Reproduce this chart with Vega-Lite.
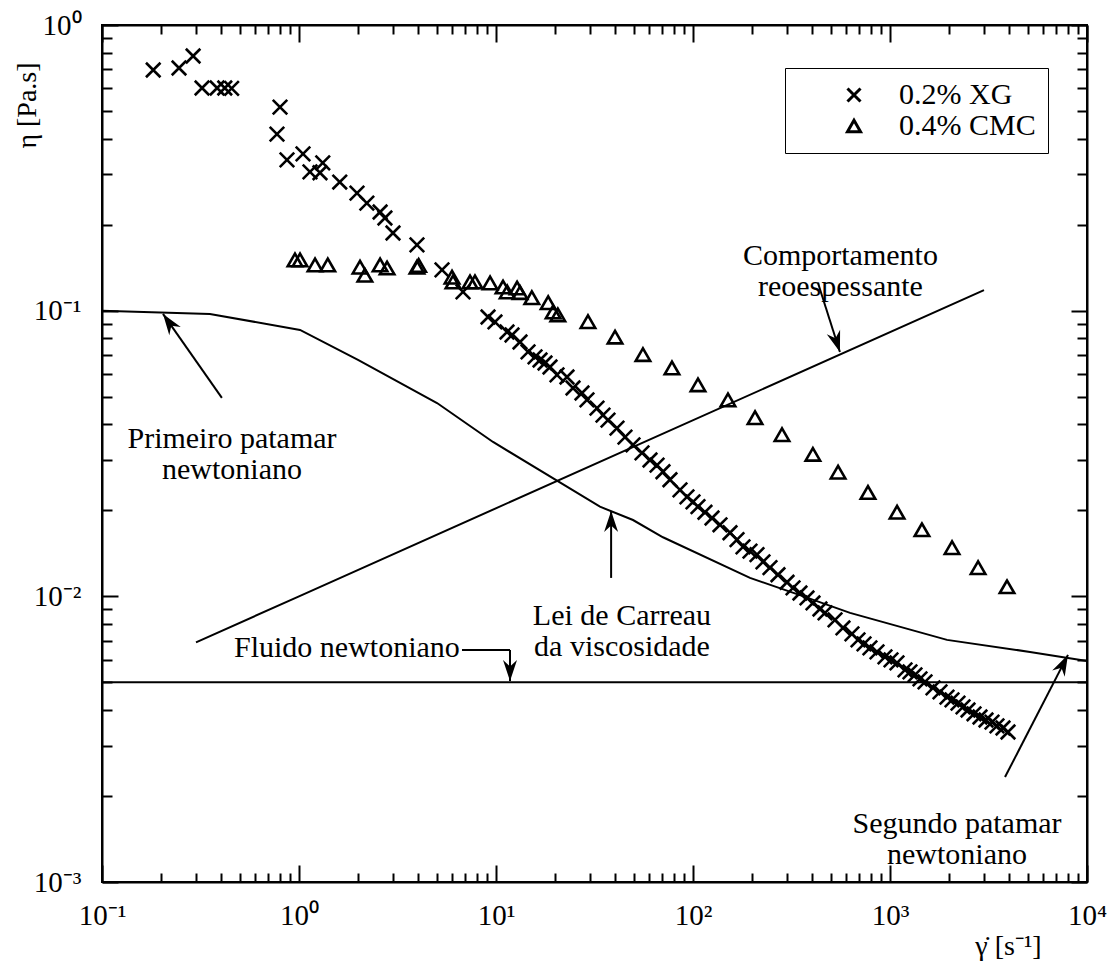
{
  "$schema": "https://vega.github.io/schema/vega-lite/v6.json",
  "width": 985,
  "height": 857,
  "autosize": "none",
  "padding": {"left": 102, "top": 25, "right": 25, "bottom": 81},
  "config": {
    "view": {"stroke": "black", "strokeWidth": 2},
    "font": "Liberation Serif",
    "axis": {
      "domainColor": "black", "domainWidth": 2,
      "tickColor": "black", "tickWidth": 2,
      "labelColor": "black", "labelFont": "Liberation Serif", "labelFontSize": 29,
      "titleColor": "black", "titleFont": "Liberation Serif", "titleFontWeight": "normal", "titleFontSize": 28,
      "grid": false, "labelFlush": false, "labelOverlap": false
    }
  },
  "datasets": {
    "measurements": [
      {"series": "0.2% XG", "rate": 0.182, "eta": 0.696},
      {"series": "0.2% XG", "rate": 0.246, "eta": 0.707},
      {"series": "0.2% XG", "rate": 0.29, "eta": 0.779},
      {"series": "0.2% XG", "rate": 0.322, "eta": 0.602},
      {"series": "0.2% XG", "rate": 0.384, "eta": 0.602},
      {"series": "0.2% XG", "rate": 0.42, "eta": 0.602},
      {"series": "0.2% XG", "rate": 0.455, "eta": 0.6},
      {"series": "0.2% XG", "rate": 0.773, "eta": 0.415},
      {"series": "0.2% XG", "rate": 0.801, "eta": 0.516},
      {"series": "0.2% XG", "rate": 0.869, "eta": 0.337},
      {"series": "0.2% XG", "rate": 1.048, "eta": 0.354},
      {"series": "0.2% XG", "rate": 1.137, "eta": 0.306},
      {"series": "0.2% XG", "rate": 1.278, "eta": 0.304},
      {"series": "0.2% XG", "rate": 1.32, "eta": 0.329},
      {"series": "0.2% XG", "rate": 1.61, "eta": 0.282},
      {"series": "0.2% XG", "rate": 1.97, "eta": 0.258},
      {"series": "0.2% XG", "rate": 2.21, "eta": 0.238},
      {"series": "0.2% XG", "rate": 2.58, "eta": 0.2215},
      {"series": "0.2% XG", "rate": 2.73, "eta": 0.211},
      {"series": "0.2% XG", "rate": 3.0, "eta": 0.187},
      {"series": "0.2% XG", "rate": 3.97, "eta": 0.17},
      {"series": "0.2% XG", "rate": 5.32, "eta": 0.139},
      {"series": "0.2% XG", "rate": 6.8, "eta": 0.1163},
      {"series": "0.2% XG", "rate": 9.11, "eta": 0.095},
      {"series": "0.2% XG", "rate": 9.88, "eta": 0.0913},
      {"series": "0.2% XG", "rate": 11.37, "eta": 0.0842},
      {"series": "0.2% XG", "rate": 12.06, "eta": 0.0822},
      {"series": "0.2% XG", "rate": 13.24, "eta": 0.0777},
      {"series": "0.2% XG", "rate": 14.54, "eta": 0.0717},
      {"series": "0.2% XG", "rate": 15.78, "eta": 0.0689},
      {"series": "0.2% XG", "rate": 16.73, "eta": 0.0672},
      {"series": "0.2% XG", "rate": 17.73, "eta": 0.0656},
      {"series": "0.2% XG", "rate": 18.8, "eta": 0.0635},
      {"series": "0.2% XG", "rate": 20.4, "eta": 0.0596},
      {"series": "0.2% XG", "rate": 22.93, "eta": 0.0586},
      {"series": "0.2% XG", "rate": 24.6, "eta": 0.0536},
      {"series": "0.2% XG", "rate": 27.32, "eta": 0.0515},
      {"series": "0.2% XG", "rate": 28.96, "eta": 0.0487},
      {"series": "0.2% XG", "rate": 32.56, "eta": 0.0456},
      {"series": "0.2% XG", "rate": 34.93, "eta": 0.0431},
      {"series": "0.2% XG", "rate": 37.03, "eta": 0.0414},
      {"series": "0.2% XG", "rate": 41.14, "eta": 0.0388},
      {"series": "0.2% XG", "rate": 45.16, "eta": 0.0361},
      {"series": "0.2% XG", "rate": 49.6, "eta": 0.0339},
      {"series": "0.2% XG", "rate": 55.1, "eta": 0.0318},
      {"series": "0.2% XG", "rate": 60.5, "eta": 0.03},
      {"series": "0.2% XG", "rate": 65.7, "eta": 0.0288},
      {"series": "0.2% XG", "rate": 70.4, "eta": 0.0273},
      {"series": "0.2% XG", "rate": 76.4, "eta": 0.0256},
      {"series": "0.2% XG", "rate": 85.9, "eta": 0.0236},
      {"series": "0.2% XG", "rate": 93.2, "eta": 0.0223},
      {"series": "0.2% XG", "rate": 100, "eta": 0.0214},
      {"series": "0.2% XG", "rate": 106, "eta": 0.0206},
      {"series": "0.2% XG", "rate": 115, "eta": 0.0197},
      {"series": "0.2% XG", "rate": 124.9, "eta": 0.0188},
      {"series": "0.2% XG", "rate": 137.1, "eta": 0.0178},
      {"series": "0.2% XG", "rate": 154.1, "eta": 0.0167},
      {"series": "0.2% XG", "rate": 167.3, "eta": 0.0158},
      {"series": "0.2% XG", "rate": 179.4, "eta": 0.0149},
      {"series": "0.2% XG", "rate": 194.7, "eta": 0.0144},
      {"series": "0.2% XG", "rate": 211.3, "eta": 0.014},
      {"series": "0.2% XG", "rate": 226.6, "eta": 0.0132},
      {"series": "0.2% XG", "rate": 246, "eta": 0.0126},
      {"series": "0.2% XG", "rate": 270, "eta": 0.0119},
      {"series": "0.2% XG", "rate": 300, "eta": 0.0112},
      {"series": "0.2% XG", "rate": 322, "eta": 0.0107},
      {"series": "0.2% XG", "rate": 349, "eta": 0.01027},
      {"series": "0.2% XG", "rate": 379, "eta": 0.00987},
      {"series": "0.2% XG", "rate": 406.5, "eta": 0.00948},
      {"series": "0.2% XG", "rate": 441, "eta": 0.00903},
      {"series": "0.2% XG", "rate": 468, "eta": 0.00875},
      {"series": "0.2% XG", "rate": 526, "eta": 0.00827},
      {"series": "0.2% XG", "rate": 577, "eta": 0.00775},
      {"series": "0.2% XG", "rate": 641, "eta": 0.00739},
      {"series": "0.2% XG", "rate": 688, "eta": 0.00704},
      {"series": "0.2% XG", "rate": 738, "eta": 0.00682},
      {"series": "0.2% XG", "rate": 791, "eta": 0.0066},
      {"series": "0.2% XG", "rate": 859, "eta": 0.00639},
      {"series": "0.2% XG", "rate": 943, "eta": 0.00614},
      {"series": "0.2% XG", "rate": 1012, "eta": 0.00599},
      {"series": "0.2% XG", "rate": 1085, "eta": 0.00585},
      {"series": "0.2% XG", "rate": 1192, "eta": 0.00553},
      {"series": "0.2% XG", "rate": 1263, "eta": 0.00544},
      {"series": "0.2% XG", "rate": 1339, "eta": 0.00531},
      {"series": "0.2% XG", "rate": 1420, "eta": 0.00514},
      {"series": "0.2% XG", "rate": 1506, "eta": 0.00502},
      {"series": "0.2% XG", "rate": 1653, "eta": 0.00478},
      {"series": "0.2% XG", "rate": 1794, "eta": 0.00463},
      {"series": "0.2% XG", "rate": 1947, "eta": 0.00444},
      {"series": "0.2% XG", "rate": 2064, "eta": 0.00434},
      {"series": "0.2% XG", "rate": 2214, "eta": 0.00423},
      {"series": "0.2% XG", "rate": 2348, "eta": 0.0041},
      {"series": "0.2% XG", "rate": 2489, "eta": 0.004},
      {"series": "0.2% XG", "rate": 2670, "eta": 0.00388},
      {"series": "0.2% XG", "rate": 2863, "eta": 0.00378},
      {"series": "0.2% XG", "rate": 3071, "eta": 0.00369},
      {"series": "0.2% XG", "rate": 3295, "eta": 0.00363},
      {"series": "0.2% XG", "rate": 3492, "eta": 0.00352},
      {"series": "0.2% XG", "rate": 3747, "eta": 0.00346},
      {"series": "0.2% XG", "rate": 3972, "eta": 0.00335},
      {"series": "0.4% CMC", "rate": 0.954, "eta": 0.1505},
      {"series": "0.4% CMC", "rate": 1.012, "eta": 0.1505},
      {"series": "0.4% CMC", "rate": 1.206, "eta": 0.1445},
      {"series": "0.4% CMC", "rate": 1.4, "eta": 0.1445},
      {"series": "0.4% CMC", "rate": 2.04, "eta": 0.142},
      {"series": "0.4% CMC", "rate": 2.16, "eta": 0.133},
      {"series": "0.4% CMC", "rate": 2.58, "eta": 0.1445},
      {"series": "0.4% CMC", "rate": 2.8, "eta": 0.141},
      {"series": "0.4% CMC", "rate": 3.97, "eta": 0.142},
      {"series": "0.4% CMC", "rate": 4.05, "eta": 0.144},
      {"series": "0.4% CMC", "rate": 5.98, "eta": 0.131},
      {"series": "0.4% CMC", "rate": 6.05, "eta": 0.126},
      {"series": "0.4% CMC", "rate": 7.38, "eta": 0.126},
      {"series": "0.4% CMC", "rate": 7.82, "eta": 0.126},
      {"series": "0.4% CMC", "rate": 9.33, "eta": 0.125},
      {"series": "0.4% CMC", "rate": 10.86, "eta": 0.121},
      {"series": "0.4% CMC", "rate": 11.4, "eta": 0.1163},
      {"series": "0.4% CMC", "rate": 12.8, "eta": 0.12},
      {"series": "0.4% CMC", "rate": 13.25, "eta": 0.1157},
      {"series": "0.4% CMC", "rate": 15.2, "eta": 0.111},
      {"series": "0.4% CMC", "rate": 18.4, "eta": 0.1066},
      {"series": "0.4% CMC", "rate": 19.5, "eta": 0.0989},
      {"series": "0.4% CMC", "rate": 20.6, "eta": 0.0967},
      {"series": "0.4% CMC", "rate": 29.3, "eta": 0.0915},
      {"series": "0.4% CMC", "rate": 40.2, "eta": 0.0808},
      {"series": "0.4% CMC", "rate": 55.7, "eta": 0.0702},
      {"series": "0.4% CMC", "rate": 78.2, "eta": 0.063},
      {"series": "0.4% CMC", "rate": 106, "eta": 0.055},
      {"series": "0.4% CMC", "rate": 150.5, "eta": 0.0487},
      {"series": "0.4% CMC", "rate": 206.5, "eta": 0.0422},
      {"series": "0.4% CMC", "rate": 283, "eta": 0.0368},
      {"series": "0.4% CMC", "rate": 406, "eta": 0.0314},
      {"series": "0.4% CMC", "rate": 545, "eta": 0.0272},
      {"series": "0.4% CMC", "rate": 773, "eta": 0.0231},
      {"series": "0.4% CMC", "rate": 1086, "eta": 0.0197},
      {"series": "0.4% CMC", "rate": 1453, "eta": 0.0171},
      {"series": "0.4% CMC", "rate": 2065, "eta": 0.0148},
      {"series": "0.4% CMC", "rate": 2800, "eta": 0.0126},
      {"series": "0.4% CMC", "rate": 3927, "eta": 0.0108}
    ],
    "curves": [
      {"curve": "Newtoniano", "rate": 0.1, "eta": 0.005},
      {"curve": "Newtoniano", "rate": 10000, "eta": 0.005},
      {"curve": "Carreau", "rate": 0.1, "eta": 0.1},
      {"curve": "Carreau", "rate": 0.353, "eta": 0.0974},
      {"curve": "Carreau", "rate": 1.012, "eta": 0.0856},
      {"curve": "Carreau", "rate": 1.993, "eta": 0.0672},
      {"curve": "Carreau", "rate": 5.02, "eta": 0.0475},
      {"curve": "Carreau", "rate": 9.66, "eta": 0.0347},
      {"curve": "Carreau", "rate": 33.7, "eta": 0.0206},
      {"curve": "Carreau", "rate": 49.6, "eta": 0.0185},
      {"curve": "Carreau", "rate": 70.4, "eta": 0.0161},
      {"curve": "Carreau", "rate": 194.7, "eta": 0.0116},
      {"curve": "Carreau", "rate": 349, "eta": 0.0101},
      {"curve": "Carreau", "rate": 627, "eta": 0.00875},
      {"curve": "Carreau", "rate": 1947, "eta": 0.00704},
      {"curve": "Carreau", "rate": 5137, "eta": 0.00639},
      {"curve": "Carreau", "rate": 10000, "eta": 0.00594},
      {"curve": "Reoespessante", "rate": 0.3, "eta": 0.0069},
      {"curve": "Reoespessante", "rate": 1, "eta": 0.01},
      {"curve": "Reoespessante", "rate": 3000, "eta": 0.118}
    ],
    "arrows": [
      {"rate": 0.406, "eta": 0.0495, "rate2": 0.204, "eta2": 0.0974, "heading": 325},
      {"rate": 431, "eta": 0.125, "rate2": 557, "eta2": 0.0717, "heading": 162},
      {"rate": 38.4, "eta": 0.0116, "rate2": 38.4, "eta2": 0.0199, "heading": 0},
      {"rate": 6.72, "eta": 0.00649, "rate2": 11.78, "eta2": 0.00649, "heading": null},
      {"rate": 11.78, "eta": 0.00649, "rate2": 11.78, "eta2": 0.00505, "heading": 180},
      {"rate": 3836, "eta": 0.00233, "rate2": 8008, "eta2": 0.00624, "heading": 27}
    ],
    "notes": [
      {"note": "Primeiro patamar\nnewtoniano", "rate": 0.457, "eta": 0.0356},
      {"note": "Comportamento\nreoespessante", "rate": 560, "eta": 0.1554},
      {"note": "Lei de Carreau\nda viscosidade", "rate": 43.6, "eta": 0.00854},
      {"note": "Fluido newtoniano", "rate": 1.75, "eta": 0.0066},
      {"note": "Segundo patamar\nnewtoniano", "rate": 2188, "eta": 0.0016}
    ]
  },
  "layer": [
    {
      "data": {"name": "measurements"},
      "mark": {"type": "point", "filled": false, "strokeWidth": 2.6, "size": 210, "color": "black", "opacity": 1},
      "encoding": {
        "x": {
          "field": "rate", "type": "quantitative",
          "scale": {"type": "log", "domain": [0.1, 10000]},
          "axis": {
            "orient": "bottom",
            "values": [0.1, 0.2, 0.3, 0.4, 0.5, 0.6, 0.7, 0.8, 0.9, 1, 2, 3, 4, 5, 6, 7, 8, 9, 10, 20, 30, 40, 50, 60, 70, 80, 90, 100, 200, 300, 400, 500, 600, 700, 800, 900, 1000, 2000, 3000, 4000, 5000, 6000, 7000, 8000, 9000, 10000],
            "tickSize": {"condition": {"test": "indexof([0.1, 1, 10, 100, 1000, 10000], datum.value) >= 0", "value": -17}, "value": -9},
            "labelExpr": "datum.value === 0.1 ? '10⁻¹' : datum.value === 1 ? '10⁰' : datum.value === 10 ? '10¹' : datum.value === 100 ? '10²' : datum.value === 1000 ? '10³' : datum.value === 10000 ? '10⁴' : ''",
            "labelPadding": 36,
            "title": "γ̇ [s⁻¹]",
            "titleX": 906, "titleY": 64, "titleAlign": "center", "titleBaseline": "middle", "titleAngle": 0
          }
        },
        "y": {
          "field": "eta", "type": "quantitative",
          "scale": {"type": "log", "domain": [0.001, 1]},
          "axis": {
            "orient": "left",
            "values": [0.001, 0.002, 0.003, 0.004, 0.005, 0.006, 0.007, 0.008, 0.009, 0.01, 0.02, 0.03, 0.04, 0.05, 0.06, 0.07, 0.08, 0.09, 0.1, 0.2, 0.3, 0.4, 0.5, 0.6, 0.7, 0.8, 0.9, 1],
            "tickSize": {"condition": {"test": "indexof([0.001, 0.01, 0.1, 1], datum.value) >= 0", "value": -16}, "value": -10},
            "labelExpr": "datum.value === 1 ? '10⁰' : datum.value === 0.1 ? '10⁻¹' : datum.value === 0.01 ? '10⁻²' : datum.value === 0.001 ? '10⁻³' : ''",
            "labelPadding": 37,
            "labelBaseline": "middle",
            "title": "η [Pa.s]",
            "titleX": -75, "titleY": 80, "titleAlign": "center", "titleBaseline": "middle", "titleAngle": -90
          }
        },
        "shape": {
          "field": "series", "type": "nominal",
          "scale": {"domain": ["0.2% XG", "0.4% CMC"], "range": ["M-1,-1L1,1M-1,1L1,-1", "triangle-up"]},
          "legend": {
            "title": null, "orient": "none", "legendX": 683, "legendY": 43,
            "strokeColor": "black", "padding": 12,
            "labelFont": "Liberation Serif", "labelFontSize": 30, "labelColor": "black",
            "symbolOffset": 42, "labelOffset": 30, "rowPadding": 1,
            "symbolStrokeColor": "black", "symbolStrokeWidth": 3, "symbolSize": 170,
            "encode": {"legend": {"update": {"strokeWidth": {"value": 2}}}}
          }
        }
      }
    },
    {
      "data": {"name": "curves"},
      "mark": {"type": "line", "color": "black", "strokeWidth": 2},
      "encoding": {
        "x": {
          "field": "rate", "type": "quantitative",
          "scale": {"type": "log", "domain": [0.1, 10000]},
          "axis": {
            "orient": "top",
            "values": [0.1, 0.2, 0.3, 0.4, 0.5, 0.6, 0.7, 0.8, 0.9, 1, 2, 3, 4, 5, 6, 7, 8, 9, 10, 20, 30, 40, 50, 60, 70, 80, 90, 100, 200, 300, 400, 500, 600, 700, 800, 900, 1000, 2000, 3000, 4000, 5000, 6000, 7000, 8000, 9000, 10000],
            "tickSize": {"condition": {"test": "indexof([0.1, 1, 10, 100, 1000, 10000], datum.value) >= 0", "value": -17}, "value": -9},
            "labels": false, "title": null
          }
        },
        "y": {
          "field": "eta", "type": "quantitative",
          "scale": {"type": "log", "domain": [0.001, 1]},
          "axis": {
            "orient": "right",
            "values": [0.001, 0.002, 0.003, 0.004, 0.005, 0.006, 0.007, 0.008, 0.009, 0.01, 0.02, 0.03, 0.04, 0.05, 0.06, 0.07, 0.08, 0.09, 0.1, 0.2, 0.3, 0.4, 0.5, 0.6, 0.7, 0.8, 0.9, 1],
            "tickSize": {"condition": {"test": "indexof([0.001, 0.01, 0.1, 1], datum.value) >= 0", "value": -16}, "value": -10},
            "labels": false, "title": null
          }
        },
        "detail": {"field": "curve", "type": "nominal"}
      }
    },
    {
      "data": {"name": "arrows"},
      "mark": {"type": "rule", "color": "black", "strokeWidth": 2},
      "encoding": {
        "x": {"field": "rate", "type": "quantitative", "scale": {"type": "log", "domain": [0.1, 10000]}, "axis": null},
        "x2": {"field": "rate2"},
        "y": {"field": "eta", "type": "quantitative", "scale": {"type": "log", "domain": [0.001, 1]}, "axis": null},
        "y2": {"field": "eta2"}
      }
    },
    {
      "data": {"name": "arrows"},
      "transform": [{"filter": "datum.heading != null"}],
      "mark": {"type": "point", "shape": "M0,0L0.7,2.1L0,1.45L-0.7,2.1Z", "filled": true, "color": "black", "size": 400, "opacity": 1},
      "encoding": {
        "x": {"field": "rate2", "type": "quantitative", "scale": {"type": "log", "domain": [0.1, 10000]}, "axis": null},
        "y": {"field": "eta2", "type": "quantitative", "scale": {"type": "log", "domain": [0.001, 1]}, "axis": null},
        "angle": {"field": "heading", "type": "quantitative", "scale": null}
      }
    },
    {
      "data": {"name": "notes"},
      "mark": {"type": "text", "font": "Liberation Serif", "fontSize": 30, "lineHeight": 31, "lineBreak": "\n", "align": "center", "baseline": "middle", "color": "black"},
      "encoding": {
        "x": {"field": "rate", "type": "quantitative", "scale": {"type": "log", "domain": [0.1, 10000]}, "axis": null},
        "y": {"field": "eta", "type": "quantitative", "scale": {"type": "log", "domain": [0.001, 1]}, "axis": null},
        "text": {"field": "note", "type": "nominal"}
      }
    }
  ],
  "resolve": {"axis": {"x": "independent", "y": "independent"}}
}
